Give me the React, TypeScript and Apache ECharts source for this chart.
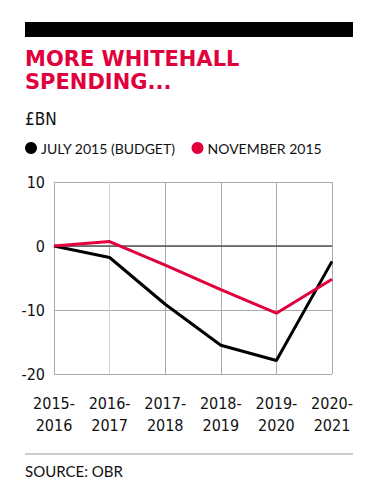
import React, { useEffect, useRef } from "react";
import * as echarts from "echarts";

const categories = ["2015-2016", "2016-2017", "2017-2018", "2018-2019", "2019-2020", "2020-2021"];
const july2015 = [0, -1.8, -9.1, -15.5, -17.9, -2.4];
const november2015 = [0, 0.7, -3.0, -6.8, -10.5, -5.2];
const yTicks = [-20, -10, 0, 10];

const RED = "#e1003c";
const COND = "'DejaVu Sans Condensed', 'Roboto', sans-serif";

export default function App() {
  const ref = useRef<HTMLDivElement>(null);
  useEffect(() => {
    if (!ref.current) return;
    const chart = echarts.init(ref.current, null, { renderer: "svg" });
    chart.setOption({
      animation: false,
      backgroundColor: "#fff",
      legend: {
        left: 25,
        top: 141,
        padding: 0,
        icon: "circle",
        itemWidth: 12,
        itemHeight: 12,
        itemGap: 16,
        textStyle: { color: "#111", fontFamily: "Lato", fontSize: 14, padding: [0, 0, 0, -1] },
        data: ["JULY 2015 (BUDGET)", "NOVEMBER 2015"],
      },
      grid: { left: 54, right: 47, top: 182, bottom: 127 },
      xAxis: {
        type: "category",
        data: categories,
        boundaryGap: false,
        axisLine: { show: false },
        axisTick: { show: true, length: 9, lineStyle: { color: "#aaa" } },
        axisLabel: {
          margin: 18,
          color: "#111",
          fontFamily: COND,
          fontSize: 16,
          lineHeight: 22,
          formatter: (v: string) => v.replace("-", "-\n"),
        },
        splitLine: {
          show: true,
          lineStyle: { color: ["#aaa", "#d6d6d6", "#aaa", "#aaa", "#aaa", "#aaa"], width: 1 },
        },
      },
      yAxis: {
        type: "value",
        min: yTicks[0],
        max: yTicks[yTicks.length - 1],
        interval: 10,
        axisLine: { show: false },
        axisTick: { show: false },
        axisLabel: {
          margin: 9,
          color: "#111",
          fontFamily: COND,
          fontSize: 16,
        },
        splitLine: { show: true, lineStyle: { color: "#aaa", width: 1 } },
      },
      series: [
        {
          name: "JULY 2015 (BUDGET)",
          type: "line",
          data: july2015,
          symbol: "none",
          color: "#000",
          lineStyle: { color: "#000", width: 3 },
          z: 3,
          markLine: {
            silent: true,
            symbol: "none",
            label: { show: false },
            lineStyle: { color: "#555", width: 1.5, type: "solid" },
            data: [{ yAxis: 0 }],
            z: 1,
          },
        },
        {
          name: "NOVEMBER 2015",
          type: "line",
          data: november2015,
          symbol: "none",
          color: RED,
          lineStyle: { color: RED, width: 3 },
          z: 4,
        },
      ],
      graphic: [
        { type: "rect", left: 25, top: 22, shape: { width: 328, height: 15 }, style: { fill: "#000" } },
        {
          type: "text",
          left: 25,
          top: 47,
          style: {
            text: "MORE WHITEHALL\nSPENDING...",
            fill: RED,
            fontFamily: "DejaVu Sans",
            fontWeight: 900,
            fontSize: 21,
            lineHeight: 23,
          },
        },
        {
          type: "text",
          left: 25,
          top: 110,
          style: { text: "£BN", fill: "#111", fontFamily: COND, fontSize: 17 },
        },
        { type: "rect", left: 25, top: 453, shape: { width: 328, height: 2 }, style: { fill: "#ccc" } },
        {
          type: "text",
          left: 25,
          top: 463,
          style: { text: "SOURCE: OBR", fill: "#111", fontFamily: "Lato", fontSize: 15 },
        },
      ],
    });
    return () => chart.dispose();
  }, []);
  return <div ref={ref} style={{ width: 379, height: 501, position: "absolute", left: 0, top: 0 }} />;
}
